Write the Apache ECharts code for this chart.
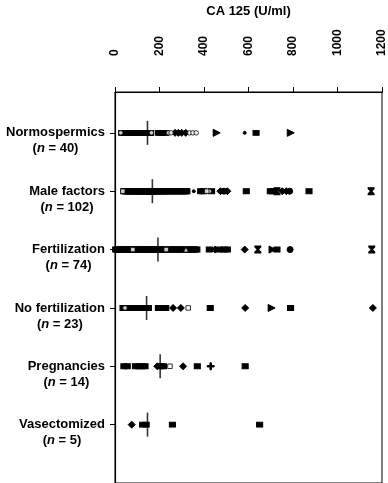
<!DOCTYPE html>
<html>
<head>
<meta charset="utf-8">
<script src="https://cdn.jsdelivr.net/npm/echarts@6/dist/echarts.min.js"></script>
<style>html,body{margin:0;padding:0;background:#fff}#c{width:388px;height:483px}</style>
</head>
<body>
<div id="c"></div>
<script>
// ---- data (CA 125, U/ml) ----
const categories = ['Normospermics', 'Male factors', 'Fertilization', 'No fertilization', 'Pregnancies', 'Vasectomized'];
const counts = [40, 102, 74, 23, 14, 5];
const medians = [146, 168, 193, 142, 203, 146];
const xTicks = [0, 200, 400, 600, 800, 1000, 1200];

// values per marker type, one list per group (same order as categories)
const filledSquares = [
  [30, 38, 45, 52, 60, 66, 72, 80, 88, 95, 102, 108, 115, 122, 128, 135, 140, 146, 150, 155, 160, 195, 205, 215, 228, 634],
  [40, 44, 49, 52, 56, 61, 63, 67, 71, 74, 78, 80, 84, 87, 91, 93, 96, 99, 102, 105, 108, 110, 113, 117, 119,
   122, 125, 127, 130, 133, 136, 138, 141, 143, 146, 148, 150, 152, 154, 156, 158, 159, 161, 162, 164, 165, 166, 167, 168, 169,
   172, 175, 178, 182, 185, 189, 192, 196, 199, 204, 208, 212, 217, 221, 226, 230, 235, 241, 246, 252, 258, 263, 269, 274, 281,
   287, 292, 298, 304, 309, 314, 318, 323, 385, 398, 434, 590, 698, 708, 872],
  [3, 9, 15, 22, 28, 34, 41, 47, 52, 58, 63, 69, 74, 86, 92, 97, 103, 108, 114, 119, 124, 129, 134, 139, 144, 149, 154, 158, 163, 167,
   171, 176, 180, 184, 188, 192, 199, 204, 210, 216, 221, 237, 243, 250, 256, 263, 270, 277, 284, 291, 298, 305, 312, 326, 333, 340,
   347, 354, 361, 368, 424, 470, 490, 505, 728],
  [36, 58, 70, 82, 95, 106, 117, 127, 136, 142, 150, 195, 212, 228, 428, 789],
  [40, 55, 92, 108, 122, 135, 205, 218, 370, 585],
  [124, 140, 258, 650]
];
const diamonds = [[270, 285, 300, 318], [474, 505, 752, 770], [450, 583], [261, 296, 585, 1159], [190, 306], [75]];
const filledCircles = [[], [490, 785], [787], [], [], []];
const openCircles = [[26, 164, 240, 252, 335, 350, 365], [424], [], [45], [], []];
const openSquares = [[], [35, 412], [80, 230], [329], [247], []];
const openTriangles = [[], [], [319], [], [], []];
const rightTriangles = [[457, 790], [], [708], [704], [], []];
const hourglasses = [[], [728, 1151], [642, 1154], [], [], []];
const crosses = [[], [], [], [], [430], []];
const dots = [[583], [354], [], [], [], []];

// ---- build ----
const toPoints = (lists) => lists.flatMap((vals, i) => vals.map(v => [v, i + 1]));
const rowIds = categories.map((_, i) => i + 1);
const FONT = '"Liberation Sans", Arial, Helvetica, sans-serif';

function sc(name, lists, symbol, size, extra) {
  return Object.assign({
    type: 'scatter', name: name, data: toPoints(lists), symbol: symbol, symbolSize: size,
    itemStyle: { color: '#000', borderColor: '#000', borderWidth: 1, opacity: 1 },
    emphasis: { disabled: true }, silent: true, animation: false
  }, extra || {});
}

const chart = echarts.init(document.getElementById('c'), null, { renderer: 'canvas' });
chart.setOption({
  backgroundColor: '#fff',
  animation: false,
  grid: { left: 115, right: 2, top: 87, bottom: 0, show: true, borderColor: '#000', borderWidth: 1 },
  xAxis: {
    type: 'value', position: 'top', min: xTicks[0], max: xTicks[xTicks.length - 1], interval: 200,
    name: 'CA 125 (U/ml)', nameLocation: 'middle', nameGap: 74,
    nameTextStyle: { fontFamily: FONT, fontWeight: 'bold', fontSize: 13, color: '#000' },
    axisLine: { show: true, lineStyle: { color: '#000', width: 1.2 } },
    axisTick: { show: true, length: 5, lineStyle: { color: '#000' } },
    axisLabel: { rotate: -90, margin: 36, fontFamily: FONT, fontSize: 12, fontWeight: 'bold', color: '#000',
      formatter: function (v) { return String(v); } },
    splitLine: { show: false }
  },
  yAxis: {
    type: 'value', inverse: true, min: 0.3, max: 7,
    axisLine: { show: true, lineStyle: { color: '#000', width: 1.2 } },
    axisTick: { show: true, length: 5, customValues: rowIds, lineStyle: { color: '#000' } },
    axisLabel: {
      customValues: rowIds, margin: 10, padding: [16, 0, 0, 0],
      formatter: function (v) {
        const i = Math.round(v) - 1;
        if (i < 0 || i >= categories.length) return '';
        return '{t|' + categories[i] + '}\n{p|(}{i|n}{p| = ' + counts[i] + ')}';
      },
      rich: {
        t: { fontFamily: FONT, fontWeight: 'bold', fontSize: 13, color: '#000', lineHeight: 16, align: 'center' },
        p: { fontFamily: FONT, fontWeight: 'bold', fontSize: 13, color: '#000', lineHeight: 16, align: 'center' },
        i: { fontFamily: FONT, fontWeight: 'bold', fontStyle: 'italic', fontSize: 13, color: '#000', lineHeight: 16, align: 'center' }
      }
    },
    splitLine: { show: false }
  },
  series: [
    sc('squares', filledSquares, 'rect', [6, 5]),
    sc('diamonds', diamonds, 'diamond', 7),
    sc('circles', filledCircles, 'circle', 6),
    sc('triangles', rightTriangles, 'triangle', 7, { symbolRotate: -90 }),
    sc('hourglass', hourglasses, 'path://M0,0 L10,0 L10,1.5 L6,5 L10,8.5 L10,10 L0,10 L0,8.5 L4,5 L0,1.5 Z', [6, 7]),
    sc('cross', crosses, 'path://M4,0 L6,0 L6,4 L10,4 L10,6 L6,6 L6,10 L4,10 L4,6 L0,6 L0,4 L4,4 Z', 7),
    sc('dots', dots, 'circle', 3),
    sc('openCircles', openCircles, 'circle', 4.5, { itemStyle: { color: '#fff', borderColor: '#000', borderWidth: 1 } }),
    sc('openSquares', openSquares, 'rect', 4.5, { itemStyle: { color: '#fff', borderColor: '#000', borderWidth: 1 } }),
    sc('openTriangles', openTriangles, 'triangle', 5, { itemStyle: { color: '#fff', borderColor: '#000', borderWidth: 1 } }),
    {
      type: 'scatter', name: 'median', data: medians.map((m, i) => [m, i + 1]),
      symbol: 'rect', symbolSize: [1.6, 24], itemStyle: { color: '#000' }, z: 5, silent: true, animation: false
    }
  ]
});
</script>
</body>
</html>
